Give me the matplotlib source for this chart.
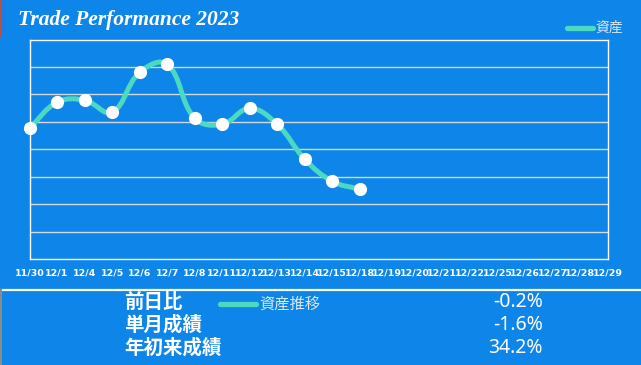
import matplotlib
matplotlib.use("Agg")
import matplotlib.pyplot as plt
from matplotlib.path import Path
from matplotlib.patches import PathPatch
import numpy as np

# dates on the x axis and the asset curve (only first 13 days have values)
dates = ['11/30', '12/1', '12/4', '12/5', '12/6', '12/7', '12/8', '12/11',
         '12/12', '12/13', '12/14', '12/15', '12/18', '12/19', '12/20', '12/21',
         '12/22', '12/25', '12/26', '12/27', '12/28', '12/29']
assets = [4.76, 5.71, 5.79, 5.35, 6.80, 7.10, 5.13, 4.91, 5.49, 4.91, 3.64, 2.83, 2.54]

stat_labels = ['前日比', '単月成績', '年初来成績']
stat_values = ['-0.2%', '-1.6%', '34.2%']

bg = '#0d85e9'
teal = '#4cd9c2'
cjk = ['Noto Sans CJK JP', 'DejaVu Sans']

fig = plt.figure(figsize=(6.41, 3.65), dpi=100, facecolor=bg)
W, H = 641, 365
ax = fig.add_axes([29.5 / W, 1 - 259 / H, 578 / W, 219.5 / H])
ax.set_facecolor(bg)
ax.set_xlim(0, len(dates) - 1)
ax.set_ylim(0, 8)
ax.set_yticks(range(1, 8))
ax.set_yticklabels([])
ax.grid(axis='y', color='#d8d8d8', lw=1)
ax.set_xticks(range(len(dates)))
ax.set_xticklabels(dates, color='white', fontsize=6.8, fontweight='bold')
ax.tick_params(length=0, pad=7)
for s in ax.spines.values():
    s.set_color('white')
    s.set_linewidth(1)

# smooth curve, bezier control points like chart.js (tension 0.4)
x = np.arange(len(assets))
pts = ax.transData.transform(np.column_stack([x, assets]))
t = 0.4
verts = [pts[0]]
codes = [Path.MOVETO]
n = len(pts)
cps = []
for i in range(n):
    p0 = pts[max(i - 1, 0)]
    p1 = pts[i]
    p2 = pts[min(i + 1, n - 1)]
    d01 = np.hypot(*(p1 - p0))
    d12 = np.hypot(*(p2 - p1))
    tot = d01 + d12 if d01 + d12 > 0 else 1
    fa = t * d01 / tot
    fb = t * d12 / tot
    cps.append((p1 - fa * (p2 - p0), p1 + fb * (p2 - p0)))
for i in range(n - 1):
    verts += [cps[i][1], cps[i + 1][0], pts[i + 1]]
    codes += [Path.CURVE4] * 3
verts = ax.transData.inverted().transform(np.array(verts))
ax.add_patch(PathPatch(Path(verts, codes), fill=False, edgecolor=teal,
                       lw=3.6, capstyle='round', joinstyle='round', clip_on=False, zorder=3))
ax.plot(x, assets, 'o', color='white', markersize=9.5, markeredgewidth=0, clip_on=False, zorder=4)

# title and legend at the top
fig.text(18 / W, 1 - 20 / H, 'Trade Performance 2023', color='white', fontsize=15.5,
         fontweight='bold', fontstyle='italic', family='Liberation Serif', va='center')
fig.add_artist(plt.Line2D([567 / W, 593 / W], [1 - 27.5 / H] * 2, color=teal, lw=3.8,
                          solid_capstyle='round'))
fig.text(595 / W, 1 - 27.5 / H, '資産', color='#dce8f5', fontsize=10,
         family=cjk, va='center')

# separator and stats at the bottom
fig.add_artist(plt.Line2D([2 / W, 1], [1 - 290 / H] * 2, color='white', lw=1.6))
fig.add_artist(plt.Line2D([0.5 / W] * 2, [0, 1 - 290 / H], color='#8a8a8a', lw=1.5))
fig.add_artist(plt.Line2D([0.5 / W] * 2, [1 - 37 / H, 1], color='#b8504a', lw=1.5))
for i, (lab, val) in enumerate(zip(stat_labels, stat_values)):
    y = 1 - (302 + i * 23) / H
    fig.text(124 / W, y, lab, color='white', fontsize=14, fontweight='bold',
             family=cjk, va='center')
    fig.text(543 / W, y, val, color='white', fontsize=14, family='Noto Sans',
             va='center', ha='right')
fig.add_artist(plt.Line2D([220 / W, 256 / W], [1 - 304 / H] * 2, color=teal, lw=3.8,
                          solid_capstyle='round'))
fig.text(259 / W, 1 - 304 / H, '資産推移', color='#dce8f5', fontsize=11,
         family=cjk, va='center')

fig.savefig('out.png', dpi=100, facecolor=bg)
